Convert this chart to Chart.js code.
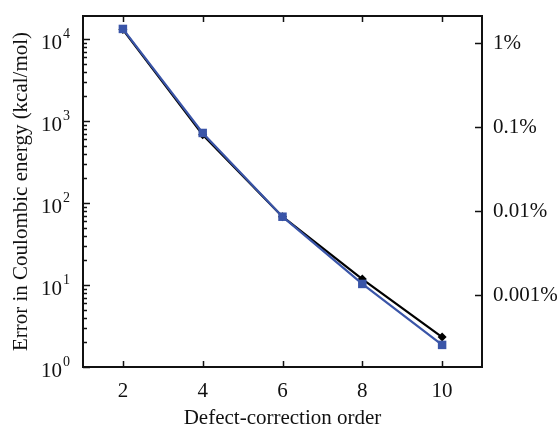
<!DOCTYPE html>
<html>
<head>
<meta charset="utf-8">
<title>Defect-correction order</title>
<script src="https://cdn.jsdelivr.net/npm/chart.js@4.4.1/dist/chart.umd.min.js"></script>
<style>
    html, body { margin: 0; padding: 0; background: #fff; }
    #wrap { width: 560px; height: 431px; position: relative; }
</style>
</head>
<body>
<div id="wrap"><canvas id="chart"></canvas></div>
<script>
// Data
const orders = [2, 4, 6, 8, 10];
const errBlack = [13000, 680, 68, 11.8, 2.32];
const errBlue = [13250, 714, 68, 10.3, 1.86];
const xTicks = [2, 4, 6, 8, 10];
const leftExponents = [0, 1, 2, 3, 4];
const rightTicks = [0.001, 0.01, 0.1, 1];

const FONT = '"Liberation Serif", "Times New Roman", serif';
const BLUE = '#3a55a8';

// Frame, inward ticks and 10^n labels
const framePlugin = {
    id: 'frame',
    afterDraw(chart) {
        const ctx = chart.ctx;
        const a = chart.chartArea;
        const x = chart.scales.x;
        const y = chart.scales.y;
        const y2 = chart.scales.y2;

        ctx.save();
        ctx.strokeStyle = '#111';
        ctx.lineWidth = 2;
        ctx.strokeRect(a.left, a.top, a.right - a.left, a.bottom - a.top);

        ctx.lineWidth = 1.5;
        ctx.beginPath();
        xTicks.forEach(v => {
            const px = Math.round(x.getPixelForValue(v)) + 0.5;
            ctx.moveTo(px, a.bottom); ctx.lineTo(px, a.bottom - 6);
            ctx.moveTo(px, a.top); ctx.lineTo(px, a.top + 6);
        });
        leftExponents.forEach(e => {
            const base = Math.pow(10, e);
            const py = Math.round(y.getPixelForValue(base)) + 0.5;
            ctx.moveTo(a.left, py); ctx.lineTo(a.left + 7, py);
            for (let m = 2; m <= 9; m++) {
                const v = base * m;
                if (v > y.max) break;
                const pm = Math.round(y.getPixelForValue(v)) + 0.5;
                ctx.moveTo(a.left, pm); ctx.lineTo(a.left + 4, pm);
            }
        });
        rightTicks.forEach(v => {
            const py = Math.round(y2.getPixelForValue(v)) + 0.5;
            ctx.moveTo(a.right, py); ctx.lineTo(a.right - 7, py);
        });
        ctx.stroke();

        // left tick labels with superscript exponents
        ctx.fillStyle = '#111';
        ctx.textBaseline = 'alphabetic';
        leftExponents.forEach(e => {
            const py = y.getPixelForValue(Math.pow(10, e));
            ctx.font = '21px ' + FONT;
            ctx.textAlign = 'right';
            ctx.fillText('10', 62, py + 10);
            ctx.font = '14px ' + FONT;
            ctx.textAlign = 'left';
            ctx.fillText(String(e), 63, py - 1);
        });
        ctx.restore();
    }
};

new Chart(document.getElementById('chart'), {
    type: 'line',
    data: {
        datasets: [{
            label: 'blue',
            data: orders.map((o, i) => ({ x: o, y: errBlue[i] })),
            borderColor: BLUE,
            backgroundColor: BLUE,
            borderWidth: 2.2,
            pointStyle: 'rect',
            pointRadius: 6,
            pointBorderWidth: 0,
            order: 0
        }, {
            label: 'black',
            data: orders.map((o, i) => ({ x: o, y: errBlack[i] })),
            borderColor: '#000',
            backgroundColor: '#000',
            borderWidth: 2.2,
            pointStyle: 'rectRot',
            pointRadius: 4.5,
            pointBorderWidth: 0,
            order: 1
        }]
    },
    options: {
        responsive: true,
        maintainAspectRatio: false,
        animation: false,
        layout: { padding: { top: 16, left: 0, right: 0, bottom: 0 } },
        plugins: {
            legend: { display: false },
            tooltip: { enabled: false }
        },
        scales: {
            x: {
                type: 'linear',
                min: 1,
                max: 11,
                afterBuildTicks: s => { s.ticks = xTicks.map(v => ({ value: v })); },
                afterFit: s => { s.height = 64; s.paddingLeft = 0; s.paddingRight = 0; },
                grid: { display: false, drawTicks: false },
                border: { display: false },
                ticks: {
                    color: '#111',
                    padding: 12,
                    font: { family: FONT, size: 21 }
                },
                title: {
                    display: true,
                    text: 'Defect-correction order',
                    color: '#111',
                    padding: { top: 0, bottom: 0 },
                    font: { family: FONT, size: 21 }
                }
            },
            y: {
                type: 'logarithmic',
                position: 'left',
                min: 1,
                max: 19050,
                afterFit: s => { s.width = 83; s.paddingTop = 0; s.paddingBottom = 0; },
                grid: { display: false, drawTicks: false },
                border: { display: false },
                ticks: { display: false },
                title: {
                    display: true,
                    text: 'Error in Coulombic energy (kcal/mol)',
                    color: '#111',
                    padding: { top: 9, bottom: 0 },
                    font: { family: FONT, size: 21 }
                }
            },
            y2: {
                type: 'logarithmic',
                position: 'right',
                min: 1.386e-4,
                max: 2.116,
                afterBuildTicks: s => { s.ticks = rightTicks.map(v => ({ value: v })); },
                afterFit: s => { s.width = 78; s.paddingTop = 0; s.paddingBottom = 0; },
                grid: { display: false, drawTicks: false },
                border: { display: false },
                ticks: {
                    color: '#111',
                    padding: 11,
                    font: { family: FONT, size: 21 },
                    callback: v => v + '%'
                }
            }
        }
    },
    plugins: [framePlugin]
});
</script>
</body>
</html>
